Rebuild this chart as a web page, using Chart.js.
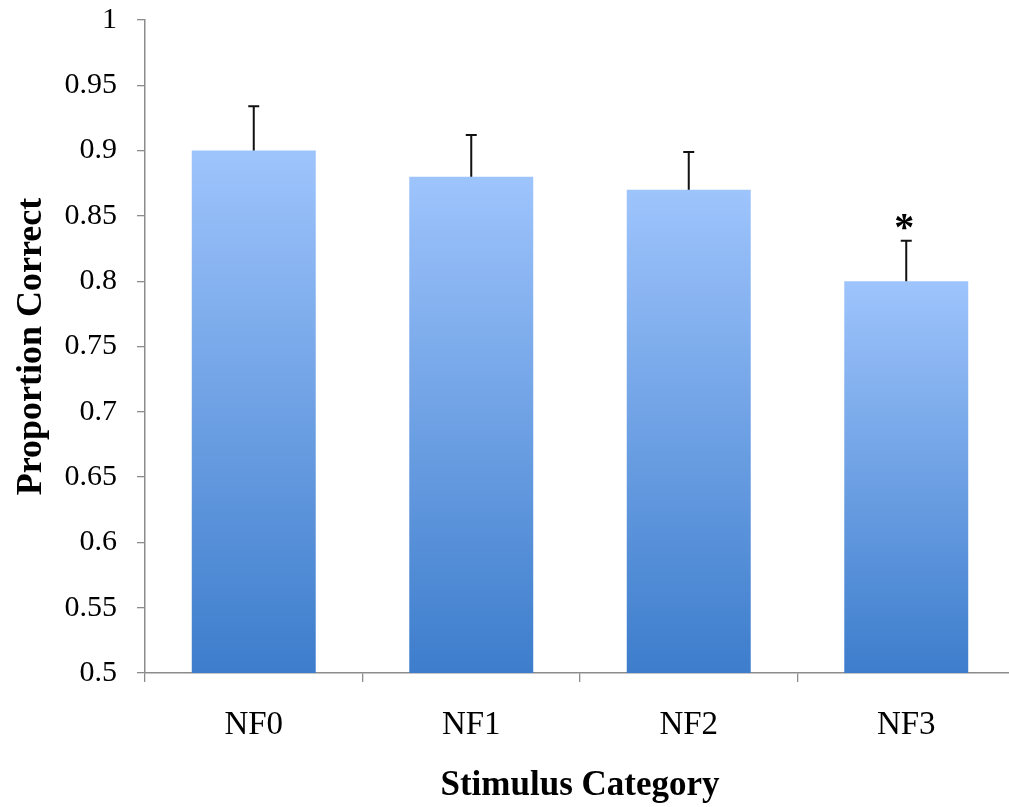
<!DOCTYPE html>
<html>
<head>
<meta charset="utf-8">
<script src="https://cdn.jsdelivr.net/npm/chart.js@4/dist/chart.umd.min.js"></script>
<style>
  html, body { margin: 0; padding: 0; background: #fff; overflow: hidden; }
  #wrap { width: 1024px; height: 807px; }
</style>
</head>
<body>
<div id="wrap"><canvas id="c" width="1024" height="807"></canvas></div>
<script>
const categories = ['NF0', 'NF1', 'NF2', 'NF3'];
const proportionCorrect = [0.90, 0.88, 0.87, 0.80];
const errorUpper = [0.934, 0.912, 0.899, 0.831];
const significance = ['', '', '', '*'];
const yMin = 0.5, yMax = 1.0, yStep = 0.05;

const FONT = '"Liberation Serif", "Times New Roman", serif';

function barGradient(ctx) {
  const chart = ctx.chart;
  const area = chart.chartArea;
  if (!area || ctx.type !== 'data' || ctx.raw == null) return '#6f9fe6';
  const ys = chart.scales.y;
  const top = ys.getPixelForValue(ctx.raw);
  const bottom = ys.getPixelForValue(yMin);
  const g = chart.ctx.createLinearGradient(0, top, 0, bottom);
  g.addColorStop(0, '#9ec4fc');
  g.addColorStop(1, '#3d7dcc');
  return g;
}

const errorBarPlugin = {
  id: 'errorBars',
  afterDatasetsDraw(chart) {
    const { ctx, scales } = chart;
    const meta = chart.getDatasetMeta(0);
    ctx.save();
    meta.data.forEach((bar, i) => {
      const x = bar.x;
      const yTop = scales.y.getPixelForValue(errorUpper[i]);
      const yBar = scales.y.getPixelForValue(proportionCorrect[i]);
      ctx.strokeStyle = '#111';
      ctx.lineWidth = 2;
      ctx.beginPath();
      ctx.moveTo(x, yBar);
      ctx.lineTo(x, yTop);
      ctx.moveTo(x - 5.5, yTop);
      ctx.lineTo(x + 5.5, yTop);
      ctx.stroke();
      if (significance[i]) {
        ctx.fillStyle = '#000';
        ctx.font = 'bold 40px ' + FONT;
        ctx.textAlign = 'center';
        ctx.textBaseline = 'alphabetic';
        ctx.fillText(significance[i], x - 2, yTop - 1);
      }
    });
    ctx.restore();
  }
};

new Chart(document.getElementById('c'), {
  type: 'bar',
  data: {
    labels: categories,
    datasets: [{
      data: proportionCorrect,
      backgroundColor: barGradient,
      borderWidth: 0,
      barPercentage: 0.57,
      categoryPercentage: 1.0
    }]
  },
  options: {
    responsive: false,
    animation: false,
    layout: { padding: { top: 20, right: 9, bottom: 0, left: 0 } },
    plugins: { legend: { display: false }, tooltip: { enabled: false } },
    scales: {
      x: {
        grid: { drawOnChartArea: false, offset: true, tickLength: 9, color: '#8c8c8c', lineWidth: 1.3 },
        border: { color: '#8c8c8c', width: 1.5 },
        ticks: { color: '#000', font: { family: FONT, size: 33 }, padding: 24 },
        title: { display: true, text: 'Stimulus Category', color: '#000',
                 font: { family: FONT, size: 35, weight: 'bold' }, padding: { top: 0, bottom: 0 } },
        afterFit(s) { s.height = 134; s.paddingLeft = 0; s.paddingRight = 0; }
      },
      y: {
        min: yMin, max: yMax,
        grid: { drawOnChartArea: false, tickLength: 8, color: '#8c8c8c', lineWidth: 1.3 },
        border: { color: '#8c8c8c', width: 1.5 },
        ticks: { stepSize: yStep, color: '#000', font: { family: FONT, size: 30 }, padding: 20,
                 callback: v => String(Number(v.toFixed(2))) },
        title: { display: true, text: 'Proportion Correct', color: '#000',
                 font: { family: FONT, size: 36, weight: 'bold' }, padding: { top: 10, bottom: 0 } },
        afterFit(s) { s.width = 145; s.paddingTop = 0; s.paddingBottom = 0; }
      }
    }
  },
  plugins: [errorBarPlugin]
});
</script>
</body>
</html>
